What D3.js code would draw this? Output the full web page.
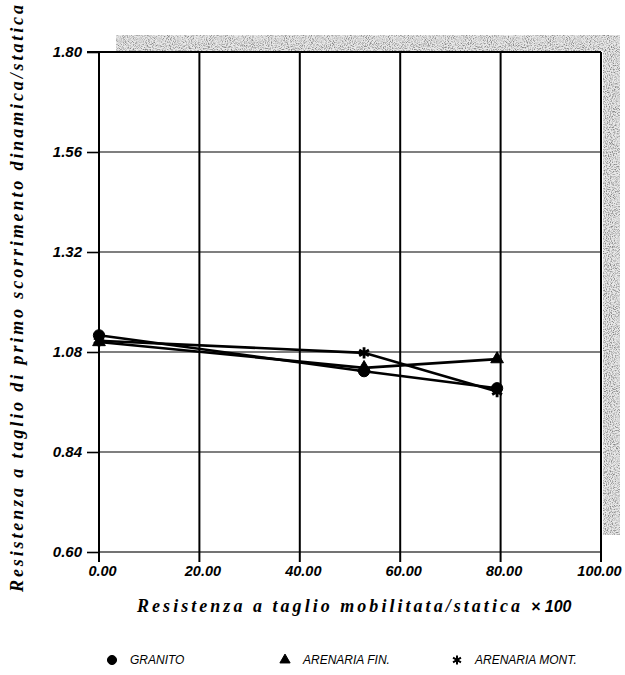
<!DOCTYPE html>
<html><head><meta charset="utf-8">
<script src="https://cdn.jsdelivr.net/npm/d3@7"></script>
<style>body{margin:0;background:#fff}svg{display:block}</style>
</head><body>
<svg id="c" width="625" height="675"></svg>
<script>
const xValues = [0, 52.8, 79.3];
const granito = [1.12, 1.034, 0.993];
const arenariaFin = [1.104, 1.042, 1.063];
const arenariaMont = [1.107, 1.078, 0.985];
const seriesNames = ["GRANITO", "ARENARIA FIN.", "ARENARIA MONT."];
const xTicks = [0, 20, 40, 60, 80, 100];
const yTicks = [0.60, 0.84, 1.08, 1.32, 1.56, 1.80];
const xTitle = "Resistenza a taglio mobilitata/statica";
const yTitle = "Resistenza a taglio di primo scorrimento dinamica/statica";

const svg = d3.select("#c");
const L = 99, R = 601, T = 52, B = 552;
const x = d3.scaleLinear().domain([0, 100]).range([L, R]);
const y = d3.scaleLinear().domain([0.60, 1.80]).range([B, T]);
const tickFont = "Liberation Sans, Arial, sans-serif";
const titleFont = "Liberation Serif, Times New Roman, serif";

// shadow texture
const defs = svg.append("defs");
const f = defs.append("filter").attr("id", "noise").attr("x", 0).attr("y", 0).attr("width", 1).attr("height", 1);
f.append("feTurbulence").attr("type", "fractalNoise").attr("baseFrequency", 0.95).attr("numOctaves", 2).attr("seed", 3).attr("result", "t");
f.append("feColorMatrix").attr("in", "t").attr("type", "matrix")
  .attr("values", "0 0 0 0 0.25  0 0 0 0 0.25  0 0 0 0 0.25  0 0 0 -3 1.75").attr("result", "m");
f.append("feComposite").attr("in", "m").attr("in2", "SourceGraphic").attr("operator", "in").attr("result", "d");
f.append("feFlood").attr("flood-color", "#e8e8e8").attr("result", "w");
f.append("feComposite").attr("in", "w").attr("in2", "SourceGraphic").attr("operator", "in").attr("result", "wb");
f.append("feMerge").selectAll("feMergeNode").data(["wb", "d"]).join("feMergeNode").attr("in", d => d);

const sh = svg.append("g").attr("filter", "url(#noise)");
sh.append("rect").attr("x", 116).attr("y", 35).attr("width", 620 - 116).attr("height", T - 36).attr("fill", "#000");
sh.append("rect").attr("x", R + 2).attr("y", 35).attr("width", 620 - R - 2).attr("height", 535 - 35).attr("fill", "#000");

// horizontal grid (gray)
svg.append("g").selectAll("line").data(yTicks.slice(1, -1)).join("line")
  .attr("x1", L).attr("x2", R).attr("y1", d => y(d)).attr("y2", d => y(d))
  .attr("stroke", "#555").attr("stroke-width", 1.6);
svg.append("line").attr("x1", L).attr("x2", R).attr("y1", B).attr("y2", B).attr("stroke", "#444").attr("stroke-width", 1.6);
svg.append("line").attr("x1", L - 12).attr("x2", R).attr("y1", T).attr("y2", T).attr("stroke", "#000").attr("stroke-width", 2);

// vertical grid (black) with ticks below
svg.append("g").selectAll("line").data(xTicks).join("line")
  .attr("x1", d => x(d)).attr("x2", d => x(d)).attr("y1", T).attr("y2", B + 10)
  .attr("stroke", "#000").attr("stroke-width", 2);

// axes with D3 for labels
const xAxis = d3.axisBottom(x).tickValues(xTicks).tickFormat(d3.format(".2f")).tickSize(0).tickPadding(14);
const gx = svg.append("g").attr("transform", `translate(0,${B})`).call(xAxis);
gx.select(".domain").remove();
gx.attr("font-family", null).attr("font-size", null);
gx.selectAll("text").style("font-family", tickFont).style("font-style", "italic")
  .style("font-weight", "bold").style("font-size", "14.5px").attr("fill", "#000")
  .attr("dx", d => d === 100 ? -2 : 3);

const yAxis = d3.axisLeft(y).tickValues(yTicks).tickFormat(d3.format(".2f")).tickSize(12).tickPadding(5);
const gy = svg.append("g").attr("transform", `translate(${L},0)`).call(yAxis);
gy.select(".domain").remove();
gy.attr("font-family", null).attr("font-size", null);
gy.selectAll(".tick line").attr("stroke", "#000").attr("stroke-width", 1.6);
gy.selectAll("text").style("font-family", tickFont).style("font-style", "italic")
  .style("font-weight", "bold").style("font-size", "15px").attr("fill", "#000");

// lines and markers
const sym = [d3.symbolCircle, d3.symbolTriangle, d3.symbolAsterisk];
const symSize = [100, 70, 90];
const all = [granito, arenariaFin, arenariaMont];
const line = d3.line().x(d => x(d[0])).y(d => y(d[1]));
all.forEach((vals) => {
  const pts = xValues.map((xv, j) => [xv, vals[j]]);
  svg.append("path").datum(pts).attr("d", line).attr("fill", "none").attr("stroke", "#000").attr("stroke-width", 2.6);
});
all.forEach((vals, i) => {
  const pts = xValues.map((xv, j) => [xv, vals[j]]);
  svg.append("g").selectAll("path").data(pts).join("path")
    .attr("transform", d => `translate(${x(d[0])},${y(d[1])})`)
    .attr("d", d3.symbol().type(sym[i]).size(symSize[i]))
    .attr("fill", "#000").attr("stroke", "#000").attr("stroke-width", i === 2 ? 2.8 : 1);
});

// titles
svg.append("text").attr("x", 137).attr("y", 612)
  .style("font-family", titleFont).style("font-style", "italic").style("font-weight", "bold")
  .style("font-size", "18px").attr("textLength", 383).attr("lengthAdjust", "spacing").text(xTitle);
svg.append("text").attr("x", 531).attr("y", 612)
  .style("font-family", tickFont).style("font-style", "italic").style("font-weight", "bold")
  .style("font-size", "16px").text("\u00d7 100");
svg.append("text").attr("transform", "translate(23,592) rotate(-90)")
  .style("font-family", titleFont).style("font-style", "italic").style("font-weight", "bold")
  .style("font-size", "18px").attr("textLength", 587).attr("lengthAdjust", "spacing").text(yTitle);

// legend
const legX = [112, 285, 457];
const lg = svg.append("g");
seriesNames.forEach((n, i) => {
  lg.append("path").attr("transform", `translate(${legX[i]},660)`)
    .attr("d", d3.symbol().type(sym[i]).size(symSize[i] * 0.65))
    .attr("fill", "#000").attr("stroke", "#000").attr("stroke-width", i === 2 ? 2 : 1);
  lg.append("text").attr("x", legX[i] + 18).attr("y", 664)
    .style("font-family", tickFont).style("font-style", "italic")
    .style("font-size", "12px").text(n);
});
</script>
</body></html>
